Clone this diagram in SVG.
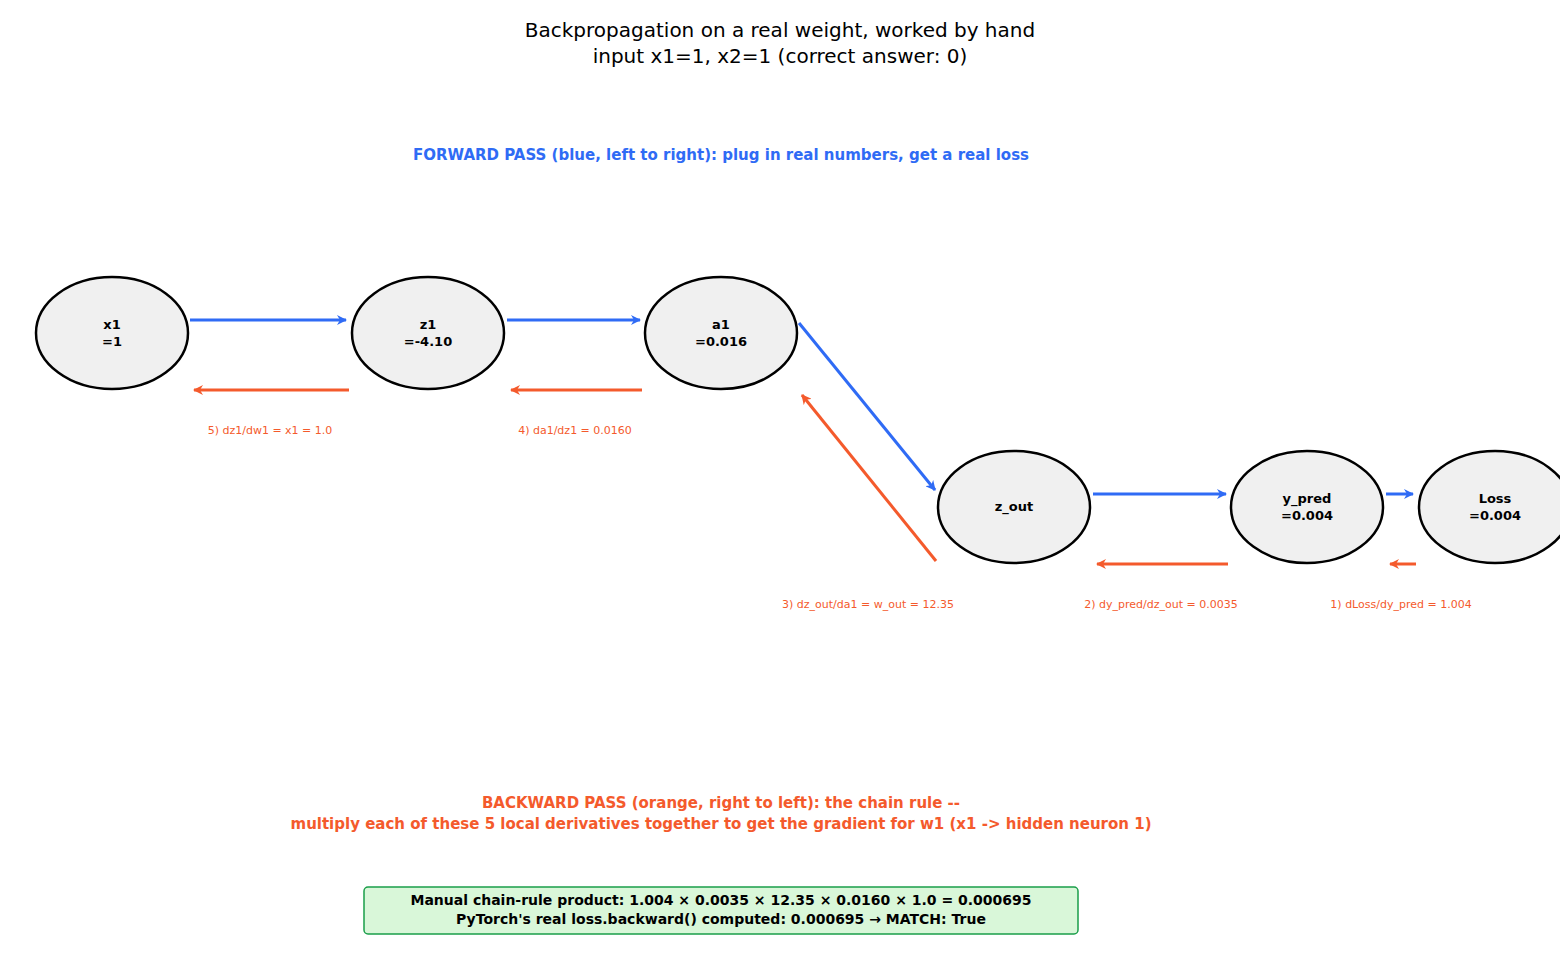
<svg xmlns="http://www.w3.org/2000/svg" width="1560" height="960" viewBox="0 0 1560 960">
<defs>
<marker id="mb" markerWidth="10" markerHeight="10" refX="9" refY="5" orient="auto" markerUnits="userSpaceOnUse"><path d="M0,0 L10,5 L0,10 L3,5 Z" fill="#2f6bf5"/></marker>
<marker id="mo" markerWidth="10" markerHeight="10" refX="9" refY="5" orient="auto" markerUnits="userSpaceOnUse"><path d="M0,0 L10,5 L0,10 L3,5 Z" fill="#f45a2c"/></marker>
<style>
text{font-family:"DejaVu Sans",sans-serif;}
.n ellipse{fill:#f0f0f0;stroke:#000;stroke-width:2.5}
.n text{font-size:13px;font-weight:bold;text-anchor:middle}
.b{stroke:#2f6bf5;stroke-width:3;fill:none;marker-end:url(#mb)}
.o{stroke:#f45a2c;stroke-width:3;fill:none;marker-end:url(#mo)}
.l{font-size:11px;fill:#f45a2c;text-anchor:middle}
</style>
</defs>
<rect width="1560" height="960" fill="#fff"/>
<text x="780" y="37" font-size="20" text-anchor="middle">Backpropagation on a real weight, worked by hand</text>
<text x="780" y="63" font-size="20" text-anchor="middle">input x1=1, x2=1  (correct answer: 0)</text>
<text x="721" y="160" font-size="15" font-weight="bold" fill="#2f6bf5" text-anchor="middle">FORWARD PASS (blue, left to right): plug in real numbers, get a real loss</text>
<g id="connectors">
<line class="b" x1="190" y1="320" x2="346" y2="320"/>
<line class="b" x1="507" y1="320" x2="640" y2="320"/>
<line class="b" x1="799" y1="323" x2="935" y2="490"/>
<line class="b" x1="1093" y1="494" x2="1226" y2="494"/>
<line class="b" x1="1386" y1="494" x2="1413" y2="494"/>
<line class="o" x1="349" y1="390" x2="194" y2="390"/>
<line class="o" x1="642" y1="390" x2="511" y2="390"/>
<line class="o" x1="936" y1="561" x2="802" y2="395"/>
<line class="o" x1="1228" y1="564" x2="1097" y2="564"/>
<line class="o" x1="1416" y1="564" x2="1390" y2="564"/>
<text class="l" x="270" y="434">5) dz1/dw1 = x1 = 1.0</text>
<text class="l" x="575" y="434">4) da1/dz1 = 0.0160</text>
<text class="l" x="868" y="608">3) dz_out/da1 = w_out = 12.35</text>
<text class="l" x="1161" y="608">2) dy_pred/dz_out = 0.0035</text>
<text class="l" x="1401" y="608">1) dLoss/dy_pred = 1.004</text>
</g>
<g id="x1" class="n"><ellipse cx="112" cy="333" rx="76" ry="56"/><text x="112" y="329">x1</text><text x="112" y="346">=1</text></g>
<g id="z1" class="n"><ellipse cx="428" cy="333" rx="76" ry="56"/><text x="428" y="329">z1</text><text x="428" y="346">=-4.10</text></g>
<g id="a1" class="n"><ellipse cx="721" cy="333" rx="76" ry="56"/><text x="721" y="329">a1</text><text x="721" y="346">=0.016</text></g>
<g id="z_out" class="n"><ellipse cx="1014" cy="507" rx="76" ry="56"/><text x="1014" y="511">z_out</text></g>
<g id="y_pred" class="n"><ellipse cx="1307" cy="507" rx="76" ry="56"/><text x="1307" y="503">y_pred</text><text x="1307" y="520">=0.004</text></g>
<g id="Loss" class="n"><ellipse cx="1495" cy="507" rx="76" ry="56"/><text x="1495" y="503">Loss</text><text x="1495" y="520">=0.004</text></g>
<text x="721" y="808" font-size="15" font-weight="bold" fill="#f45a2c" text-anchor="middle">BACKWARD PASS (orange, right to left): the chain rule --</text>
<text x="721" y="829" font-size="15" font-weight="bold" fill="#f45a2c" text-anchor="middle">multiply each of these 5 local derivatives together to get the gradient for w1 (x1 -&gt; hidden neuron 1)</text>
<g id="result">
<rect x="364" y="887" width="714" height="47" rx="4" fill="#d9f7d9" stroke="#1a9e4a" stroke-width="1.5"/>
<text x="721" y="905" font-size="14" font-weight="bold" text-anchor="middle">Manual chain-rule product: 1.004 × 0.0035 × 12.35 × 0.0160 × 1.0 = 0.000695</text>
<text x="721" y="924" font-size="14" font-weight="bold" text-anchor="middle">PyTorch's real loss.backward() computed: 0.000695   →   MATCH: True</text>
</g>
</svg>
